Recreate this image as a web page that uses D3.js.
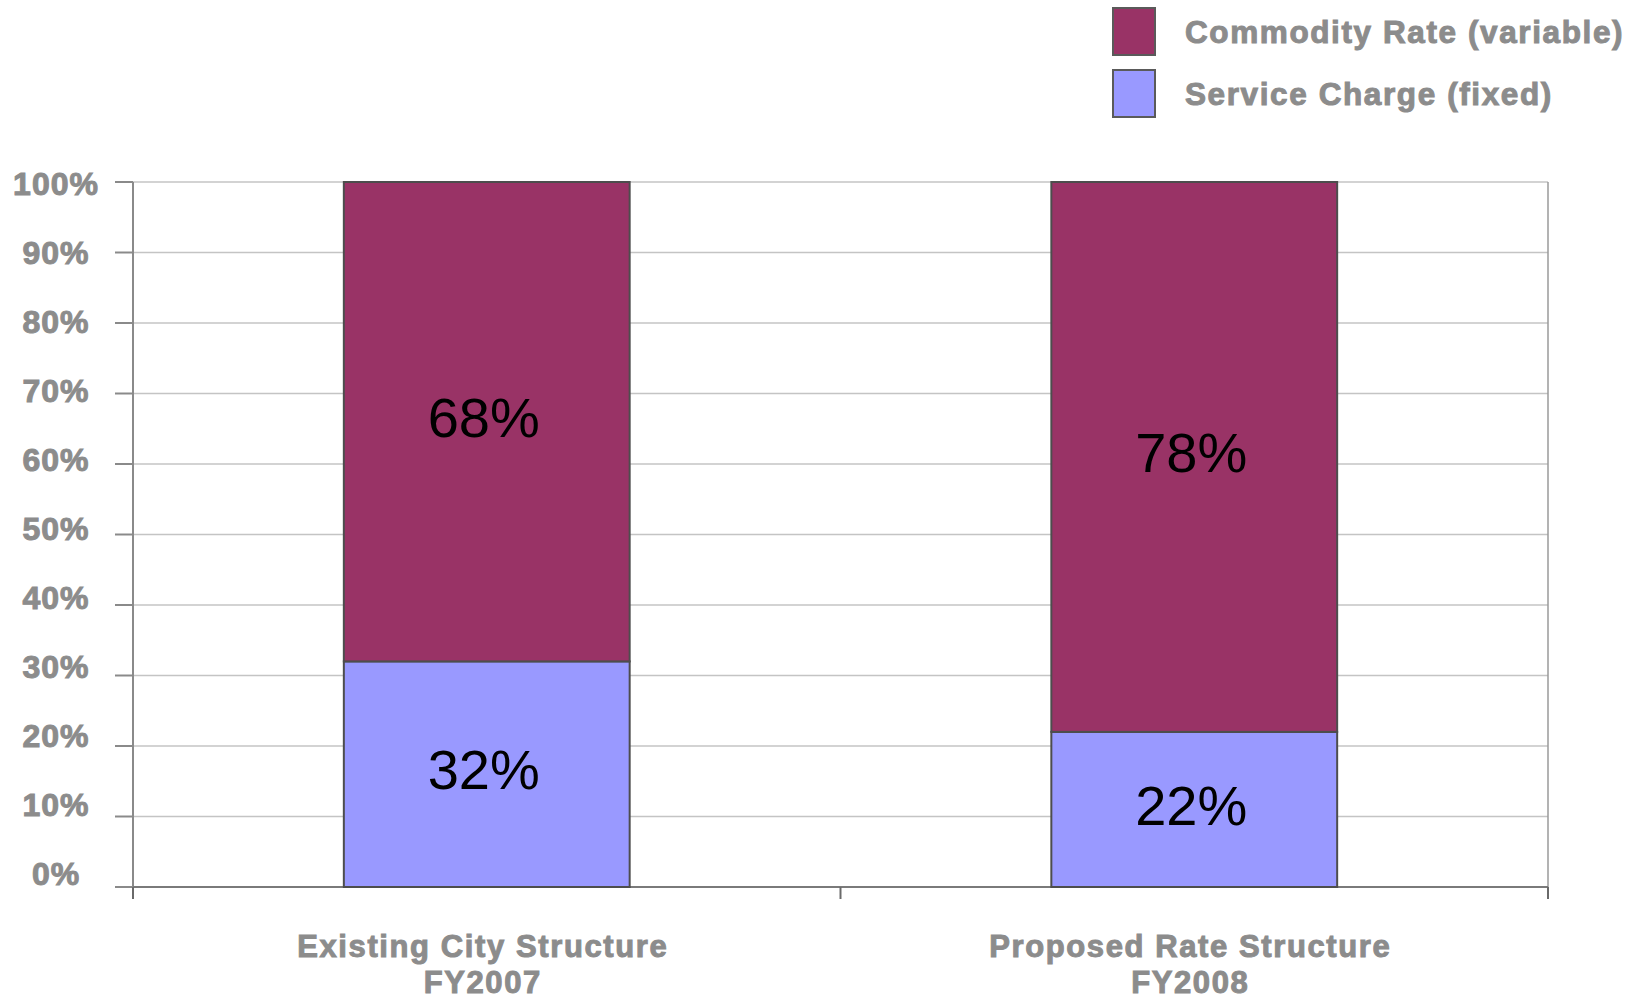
<!DOCTYPE html>
<html>
<head>
<meta charset="utf-8">
<script src="https://cdn.jsdelivr.net/npm/d3@7"></script>
<style>
  body { margin: 0; background: #fff; }
  text { font-family: "Liberation Sans", Arial, sans-serif; }
</style>
</head>
<body>
<svg width="1639" height="999"></svg>
<script>
var categories = [["Existing City Structure", "FY2007"], ["Proposed Rate Structure", "FY2008"]];
var seriesNames = ["Service Charge (fixed)", "Commodity Rate (variable)"];
var serviceCharge = [32, 22];
var commodityRate = [68, 78];
var yTicks = [0, 10, 20, 30, 40, 50, 60, 70, 80, 90, 100];
var colors = ["#9999ff", "#993366"];

var svg = d3.select("svg"),
    margin = {left: 133, right: 91, top: 182, bottom: 112},
    width = +svg.attr("width") - margin.left - margin.right,
    height = +svg.attr("height") - margin.top - margin.bottom;

var grey = "#8c8c8c";

var g = svg.append("g")
    .attr("transform", "translate(" + margin.left + "," + margin.top + ")");

var x = d3.scaleBand()
    .domain(d3.range(categories.length))
    .range([0, width])
    .paddingInner(0.596)
    .paddingOuter(0.298);

var y = d3.scaleLinear().domain([0, 100]).range([height, 0]);
// tick labels sit on a slightly compressed scale in the original
var yLabel = d3.scaleLinear().domain([0, 100]).range([height - 14, 1]);

// gridlines
g.append("g").selectAll("line")
    .data(yTicks)
  .enter().append("line")
    .attr("x1", 0).attr("x2", width)
    .attr("y1", function(d) { return y(d); })
    .attr("y2", function(d) { return y(d); })
    .style("stroke", "#c4c4c4")
    .style("stroke-width", 1.5);

// right border
g.append("line")
    .attr("x1", width).attr("x2", width)
    .attr("y1", 0).attr("y2", height + 12)
    .style("stroke", "#9a9a9a").style("stroke-width", 1.5);

// left axis line + outward ticks
g.append("line")
    .attr("x1", 0).attr("x2", 0)
    .attr("y1", 0).attr("y2", height + 12)
    .style("stroke", "#8a8a8a").style("stroke-width", 2);

g.append("g").selectAll("line")
    .data(yTicks)
  .enter().append("line")
    .attr("x1", -18).attr("x2", 0)
    .attr("y1", function(d) { return y(d); })
    .attr("y2", function(d) { return y(d); })
    .style("stroke", "#8a8a8a").style("stroke-width", 2);

g.append("g").selectAll("text")
    .data(yTicks)
  .enter().append("text")
    .attr("x", -77)
    .attr("y", function(d) { return yLabel(d); })
    .attr("dy", "0.36em")
    .attr("text-anchor", "middle")
    .style("font-size", "32px")
    .style("font-weight", "bold")
    .style("letter-spacing", "1px")
    .style("fill", grey)
    .style("stroke", grey)
    .style("stroke-width", 1)
    .text(function(d) { return d + "%"; });

// bottom axis
g.append("line")
    .attr("x1", 0).attr("x2", width)
    .attr("y1", height).attr("y2", height)
    .style("stroke", "#7a7a7a").style("stroke-width", 2);

var sepTicks = d3.range(categories.length + 1).map(function(i) { return i * width / categories.length; });
g.append("g").selectAll("line")
    .data(sepTicks)
  .enter().append("line")
    .attr("x1", function(d) { return d; }).attr("x2", function(d) { return d; })
    .attr("y1", height).attr("y2", height + 12)
    .style("stroke", "#6a6a6a").style("stroke-width", 2);

// stacked bars
var rows = categories.map(function(c, i) {
  return {i: i, values: [serviceCharge[i], commodityRate[i]]};
});
var stack = d3.stack().keys([0, 1]).value(function(d, k) { return d.values[k]; });
var layers = stack(rows);

var layer = g.selectAll(".layer")
    .data(layers)
  .enter().append("g")
    .attr("class", "layer")
    .style("fill", function(d, i) { return colors[i]; });

layer.selectAll("rect")
    .data(function(d) { return d; })
  .enter().append("rect")
    .attr("x", function(d) { return x(d.data.i); })
    .attr("y", function(d) { return y(d[1]); })
    .attr("width", x.bandwidth())
    .attr("height", function(d) { return y(d[0]) - y(d[1]); })
    .style("stroke", "#4d4d4d")
    .style("stroke-width", 2);

layer.selectAll("text")
    .data(function(d) { return d; })
  .enter().append("text")
    .attr("x", function(d) { return x(d.data.i) + x.bandwidth() / 2 - 3; })
    .attr("y", function(d) { return y((d[0] + d[1]) / 2); })
    .attr("dy", "0.27em")
    .attr("text-anchor", "middle")
    .style("font-size", "56px")
    .style("fill", "#000")
    .text(function(d) { return (d[1] - d[0]) + "%"; });

// category labels
var catText = g.append("g").selectAll("text")
    .data(categories)
  .enter().append("text")
    .attr("text-anchor", "middle")
    .style("font-size", "31px")
    .style("font-weight", "bold")
    .style("letter-spacing", "1.6px")
    .style("fill", grey)
    .style("stroke", grey)
    .style("stroke-width", 1);

catText.selectAll("tspan")
    .data(function(d, i) { return d.map(function(t) { return {t: t, i: i}; }); })
  .enter().append("tspan")
    .attr("x", function(d) { return x(d.i) + x.bandwidth() / 2 - 4; })
    .attr("y", function(d, j) { return height + 70 + j * 36; })
    .text(function(d) { return d.t; });

// legend
var legendOrder = [1, 0];
var legend = svg.append("g")
    .attr("transform", "translate(1113,8)")
  .selectAll("g")
    .data(legendOrder)
  .enter().append("g")
    .attr("transform", function(d, i) { return "translate(0," + i * 62 + ")"; });

legend.append("rect")
    .attr("width", 42).attr("height", 47)
    .style("fill", function(d) { return colors[d]; })
    .style("stroke", "#5a5a5a")
    .style("stroke-width", 2);

legend.append("text")
    .attr("x", 72).attr("y", 24)
    .attr("dy", "0.36em")
    .style("font-size", "31.5px")
    .style("font-weight", "bold")
    .style("letter-spacing", "1.6px")
    .style("fill", grey)
    .style("stroke", grey)
    .style("stroke-width", 1)
    .text(function(d) { return seriesNames[d]; });
</script>
</body>
</html>
